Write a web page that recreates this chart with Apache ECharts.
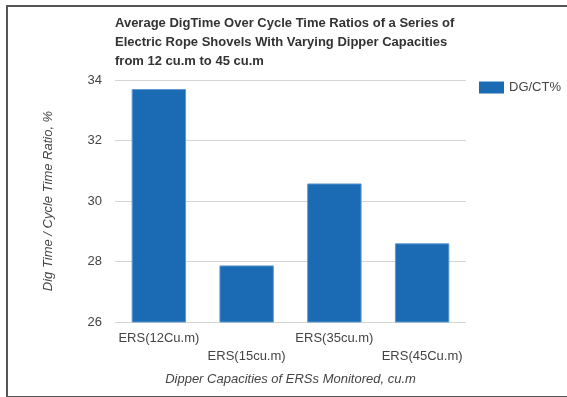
<!DOCTYPE html>
<html>
<head>
<meta charset="utf-8">
<script src="https://cdn.jsdelivr.net/npm/echarts@6/dist/echarts.min.js"></script>
<style>
  html, body { margin: 0; padding: 0; background: #fff; overflow: hidden; }
  #frame { position: absolute; left: 6px; top: 5px; width: 600px; height: 389px; border: 2px solid #555; box-sizing: content-box; }
  #chart { position: absolute; left: 0; top: 0; width: 567px; height: 397px; }
</style>
</head>
<body>
<div id="frame"></div>
<div id="chart"></div>
<script>
// Shovel categories and their average dig-time / cycle-time ratios (%)
const categories = ['ERS(12Cu.m)', 'ERS(15cu.m)', 'ERS(35cu.m)', 'ERS(45Cu.m)'];
const ratioValues = [33.7, 27.87, 30.58, 28.6];
const seriesName = 'DG/CT%';
const yTicks = { min: 26, max: 34, interval: 2 };

const chart = echarts.init(document.getElementById('chart'), null, { renderer: 'canvas' });
const font = 'Liberation Sans, Arial, sans-serif';

chart.setOption({
  animation: false,
  title: {
    text: 'Average DigTime Over Cycle Time Ratios of a Series of\nElectric Rope Shovels With Varying Dipper Capacities\nfrom 12 cu.m to 45 cu.m',
    left: 110,
    top: 9,
    textStyle: { fontFamily: font, fontSize: 13, fontWeight: 'bold', color: '#333', lineHeight: 19 }
  },
  legend: {
    data: [seriesName],
    icon: 'rect',
    left: 474,
    top: 76,
    itemWidth: 25,
    itemHeight: 12,
    itemGap: 6,
    itemStyle: { borderWidth: 0 },
    textStyle: { fontFamily: font, fontSize: 13, color: '#444' }
  },
  grid: { left: 115, right: 101, top: 80, bottom: 75 },
  xAxis: {
    type: 'category',
    data: categories,
    axisLine: { show: false },
    axisTick: { show: false },
    axisLabel: {
      interval: 0,
      margin: 7,
      fontFamily: font,
      fontSize: 13,
      color: '#444',
      lineHeight: 18,
      formatter: (v, i) => (i % 2 ? '\n' + v : v)
    },
    name: 'Dipper Capacities of ERSs Monitored, cu.m',
    nameLocation: 'middle',
    nameGap: 51,
    nameTextStyle: { fontFamily: font, fontSize: 13, fontStyle: 'italic', color: '#444' }
  },
  yAxis: {
    type: 'value',
    min: yTicks.min,
    max: yTicks.max,
    interval: yTicks.interval,
    axisLine: { show: false },
    axisTick: { show: false },
    axisLabel: { fontFamily: font, fontSize: 13, color: '#444', margin: 13 },
    splitLine: { lineStyle: { color: '#d4d4d4', width: 1 } },
    name: 'Dig Time / Cycle Time Ratio, %',
    nameLocation: 'middle',
    nameGap: 60,
    nameTextStyle: { fontFamily: font, fontSize: 13, fontStyle: 'italic', color: '#444' }
  },
  series: [{
    name: seriesName,
    type: 'bar',
    data: ratioValues,
    barCategoryGap: '38%',
    itemStyle: { color: '#1a6ab4', borderColor: '#5d98d2', borderWidth: 1 }
  }]
});
</script>
</body>
</html>
